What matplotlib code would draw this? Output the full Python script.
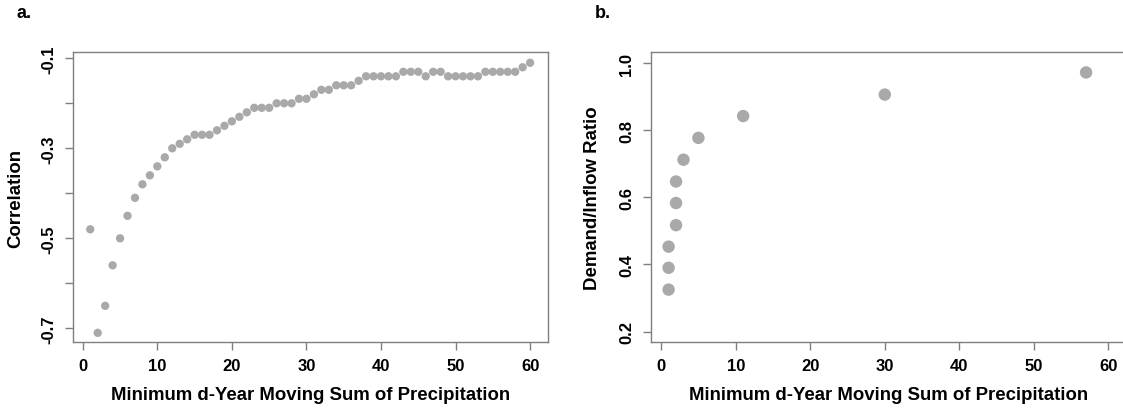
import numpy as np
import matplotlib
matplotlib.use('Agg')
import matplotlib.pyplot as plt

plt.rcParams['font.family'] = ['Liberation Sans', 'DejaVu Sans']
plt.rcParams['font.weight'] = 'bold'

# panel a: correlation vs window length d
d_years = list(range(1, 61))
correlation = [-0.48, -0.71, -0.65, -0.56, -0.50, -0.45, -0.41, -0.38, -0.36, -0.34,
               -0.32, -0.30, -0.29, -0.28, -0.27, -0.27, -0.27, -0.26, -0.25, -0.24,
               -0.23, -0.22, -0.21, -0.21, -0.21, -0.20, -0.20, -0.20, -0.19, -0.19,
               -0.18, -0.17, -0.17, -0.16, -0.16, -0.16, -0.15, -0.14, -0.14, -0.14,
               -0.14, -0.14, -0.13, -0.13, -0.13, -0.14, -0.13, -0.13, -0.14, -0.14,
               -0.14, -0.14, -0.14, -0.13, -0.13, -0.13, -0.13, -0.13, -0.12, -0.11]

# panel b: demand/inflow ratio vs d
d_min = [1, 1, 1, 2, 2, 2, 3, 5, 11, 30, 57]
ratio = [0.325, 0.39, 0.453, 0.517, 0.583, 0.647, 0.712, 0.777, 0.842, 0.906, 0.972]

xlab = 'Minimum d-Year Moving Sum of Precipitation'
pt_col = '#A9A9A9'
box_col = '#7F7F7F'

fig = plt.figure(figsize=(11.23, 4.10), dpi=100)
ax1 = fig.add_axes([0.0647, 0.1627, 0.423, 0.7073])
ax2 = fig.add_axes([0.5797, 0.1627, 0.423, 0.7073])


def style(ax, ylab, ylab_x):
    for s in ax.spines.values():
        s.set_color(box_col)
        s.set_linewidth(1.0)
    ax.tick_params(direction='out', length=5.5, width=1, color=box_col,
                   labelsize=12)
    ax.tick_params(axis='x', pad=5.5)
    ax.tick_params(axis='y', pad=6.5)
    for lab in ax.get_yticklabels():
        lab.set_rotation(90)
        lab.set_va('center')
    ax.set_xlabel(xlab, fontsize=13.4, fontweight='bold')
    ax.xaxis.set_label_coords(0.5, -0.15)
    ax.set_ylabel(ylab, fontsize=13.4, fontweight='bold')
    ax.yaxis.set_label_coords(ylab_x, 0.5)


ax1.scatter(d_years, correlation, s=36, color=pt_col, edgecolors='none', zorder=3)
ax1.set_xlim(-1.36, 62.36)
ax1.set_ylim(-0.731, -0.0867)
ax1.set_xticks(range(0, 61, 10))
ax1.set_yticks(np.arange(-0.7, -0.05, 0.1))
ax1.set_yticklabels(['-0.7', '', '-0.5', '', '-0.3', '', '-0.1'])
style(ax1, 'Correlation', -0.102)

ax2.scatter(d_min, ratio, s=80, color=pt_col, edgecolors='none', zorder=3)
ax2.set_xlim(-1.36, 62.36)
ax2.set_ylim(0.168, 1.032)
ax2.set_xticks(range(0, 61, 10))
ax2.set_yticks([0.2, 0.4, 0.6, 0.8, 1.0])
ax2.set_yticklabels(['0.2', '0.4', '0.6', '0.8', '1.0'])
style(ax2, 'Demand/Inflow Ratio', -0.105)

fig.text(0.015, 0.966, 'a.', fontsize=13, fontweight='bold', va='center')
fig.text(0.530, 0.966, 'b.', fontsize=13, fontweight='bold', va='center')

fig.savefig('out.png', dpi=100)
